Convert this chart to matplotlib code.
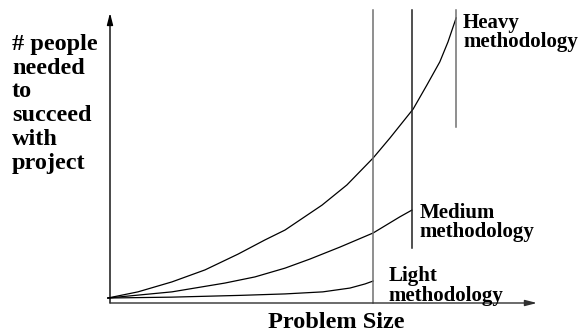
import matplotlib
matplotlib.use("Agg")
import matplotlib.pyplot as plt

# Problem size (x) against number of people needed (y), per methodology
heavy_size = [-0.5, 6.5, 14.4, 22.1, 29.8, 36.0, 40.7, 49.3, 55.1, 61.2, 65.1, 68.1,
              70.5, 73.7, 76.7, 78.6, 80.5]
heavy_people = [1.7, 3.8, 7.2, 11.3, 16.7, 21.5, 24.9, 33.4, 40.3, 49.5, 56.3, 61.8,
                66.2, 74.4, 82.3, 89.1, 97.3]

medium_size = [-0.5, 14.4, 26.7, 33.7, 40.7, 46.5, 53.5, 61.2, 67.4, 70.2]
medium_people = [1.7, 3.8, 6.8, 8.9, 11.9, 15.0, 19.1, 23.9, 29.4, 31.7]

light_size = [-0.5, 14.4, 30.2, 40.7, 49.5, 55.8, 59.3, 61.2]
light_people = [1.7, 2.0, 2.6, 3.1, 3.8, 5.1, 6.5, 7.5]

# Limit of each methodology: x position and lower end of its marker line
limit_size = [61.2, 70.2, 80.5]
limit_bottom = [0.0, 18.8, 60.1]
limit_top = 100.0

series_labels = ["Light\nmethodology", "Medium\nmethodology", "Heavy\nmethodology"]
label_pos = [(64.7, 12.5), (71.9, 34.1), (82.1, 99.0)]

x_title = "Problem Size"
y_title = "# people\nneeded\nto\nsucceed\nwith\nproject"

W, H = 580, 335
fig = plt.figure(figsize=(W / 100, H / 100), dpi=100)
left, right, top, bottom = 110, 540, 10, 303
ax = fig.add_axes([left / W, 1 - bottom / H, (right - left) / W, (bottom - top) / H])
ax.set_xlim(0, 100)
ax.set_ylim(0, 100)
ax.set_axis_off()

serif = {"family": "Liberation Serif", "weight": "bold"}

for xs, ys in [(heavy_size, heavy_people), (medium_size, medium_people), (light_size, light_people)]:
    ax.plot(xs, ys, color="black", lw=0.9, solid_joinstyle="round", clip_on=False)

limit_colors = ["#707070", "#202020", "#707070"]
for x, b, c in zip(limit_size, limit_bottom, limit_colors):
    ax.plot([x, x], [b, limit_top], color=c, lw=1.1, clip_on=False)

# Axes drawn as arrows
arrow = dict(arrowstyle="-|>,head_length=0.7,head_width=0.18", color="black", lw=1.0,
             shrinkA=0, shrinkB=0)
ax.annotate("", xy=(0, 99), xytext=(0, 0), xycoords="data", arrowprops=arrow, annotation_clip=False)
ax.annotate("", xy=(99.3, 0), xytext=(0, 0), xycoords="data",
            arrowprops=dict(arrow, color="#303030"), annotation_clip=False)

for txt, (x, y) in zip(series_labels, label_pos):
    ax.text(x, y, txt, fontsize=15, va="top", ha="left", linespacing=0.95, **serif)

fig.text(336 / W, 1 - 322 / H, x_title, fontsize=17.5, ha="center", va="center", **serif)
fig.text(12 / W, 1 - 34 / H, y_title, fontsize=17.5, ha="left", va="top", linespacing=1.17, **serif)

fig.savefig("out.png", dpi=100)
